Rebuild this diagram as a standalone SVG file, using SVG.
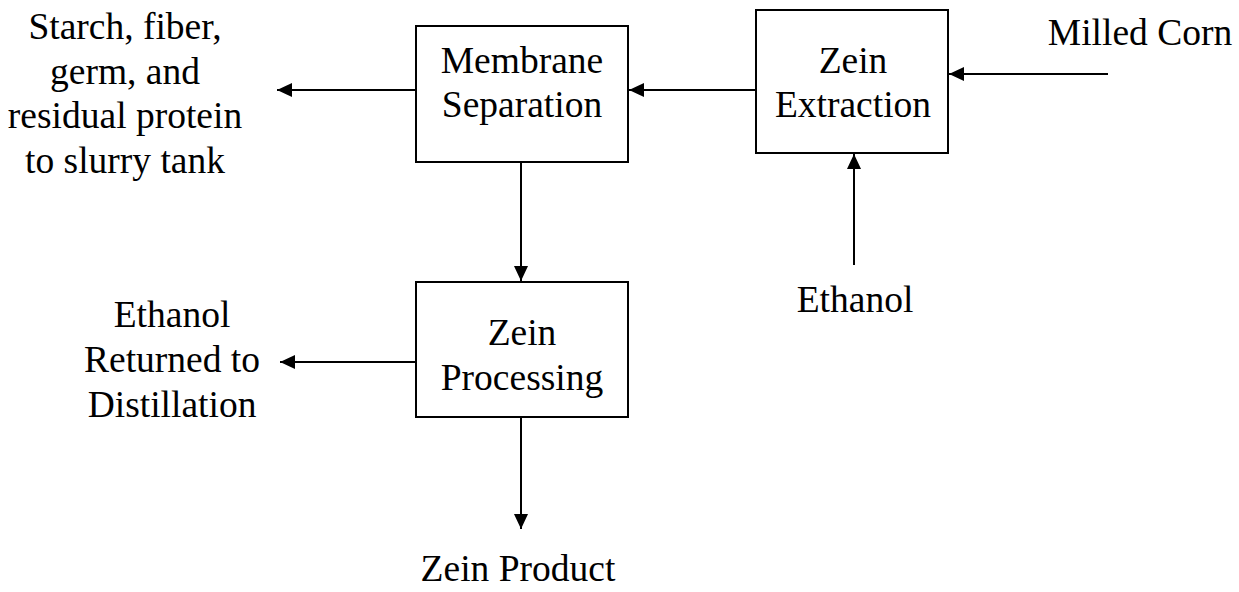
<svg xmlns="http://www.w3.org/2000/svg" width="1239" height="592" viewBox="0 0 1239 592">
  <style>
    .box { fill: #ffffff; stroke: #000000; stroke-width: 2; }
    .flow { fill: none; stroke: #000000; stroke-width: 2; marker-end: url(#arrow); }
    text { font-family: "Liberation Serif", "Times New Roman", serif; font-size: 37.5px; fill: #000000; text-anchor: middle; }
  </style>
  <defs>
    <marker id="arrow" markerUnits="userSpaceOnUse" markerWidth="16" markerHeight="16" viewBox="0 0 16 16" refX="15" refY="8" orient="auto">
      <path d="M0,1 L15,8 L0,15 Z" fill="#000000"/>
    </marker>
  </defs>

  <rect width="1239" height="592" fill="#ffffff"/>

  <g id="connectors">
    <line class="flow" x1="1108" y1="74" x2="949" y2="74"/>
    <line class="flow" x1="854" y1="265" x2="854" y2="154"/>
    <line class="flow" x1="756" y1="90" x2="629" y2="90"/>
    <line class="flow" x1="416" y1="90" x2="277" y2="90"/>
    <line class="flow" x1="521" y1="162" x2="521" y2="281"/>
    <line class="flow" x1="416" y1="362" x2="280" y2="362"/>
    <line class="flow" x1="521" y1="417" x2="521" y2="529"/>
  </g>

  <g id="zein-extraction">
    <rect class="box" x="756" y="10" width="192" height="143"/>
    <text x="853" y="73">Zein</text>
    <text x="853" y="117">Extraction</text>
  </g>

  <g id="membrane-separation">
    <rect class="box" x="416" y="26" width="212" height="136"/>
    <text x="522" y="73">Membrane</text>
    <text x="522" y="117">Separation</text>
  </g>

  <g id="zein-processing">
    <rect class="box" x="416" y="282" width="212" height="135"/>
    <text x="522" y="345">Zein</text>
    <text x="522" y="390">Processing</text>
  </g>

  <g id="milled-corn">
    <text x="1140" y="45">Milled Corn</text>
  </g>

  <g id="ethanol-feed">
    <text x="855" y="312">Ethanol</text>
  </g>

  <g id="slurry-outlet">
    <text x="125" y="39">Starch, fiber,</text>
    <text x="125" y="84">germ, and</text>
    <text x="125" y="128">residual protein</text>
    <text x="125" y="173">to slurry tank</text>
  </g>

  <g id="ethanol-return">
    <text x="172" y="327">Ethanol</text>
    <text x="172" y="372">Returned to</text>
    <text x="172" y="417">Distillation</text>
  </g>

  <g id="zein-product">
    <text x="518" y="581">Zein Product</text>
  </g>
</svg>
